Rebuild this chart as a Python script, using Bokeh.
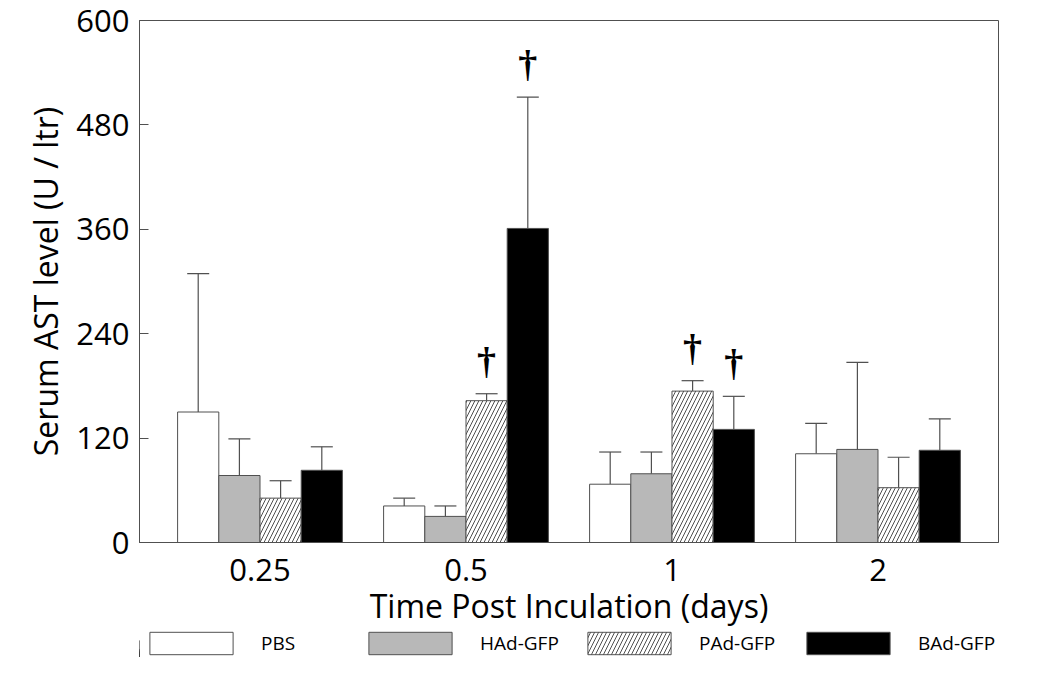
from bokeh.plotting import figure
from bokeh.layouts import column
from bokeh.models import (ColumnDataSource, FixedTicker, Legend, LegendItem,
                          Whisker, TeeHead, Range1d)
from bokeh.core.properties import value
from bokeh.embed import file_html
from bokeh.resources import INLINE

# ---------------- data ----------------
groups = ["0.25", "0.5", "1", "2"]          # time post inoculation (days)
series = ["PBS", "HAd-GFP", "PAd-GFP", "BAd-GFP"]

pbs = [150, 42, 67, 102]
pbs_upper = [309, 51, 104, 137]
had = [77, 30, 79, 107]
had_upper = [119, 42, 104, 207]
pad = [51, 163, 174, 63]
pad_upper = [71, 171, 186, 98]
bad = [83, 361, 130, 106]
bad_upper = [110, 512, 168, 142]

# significance markers (dagger) per series and group
pbs_sig = [False, False, False, False]
had_sig = [False, False, False, False]
pad_sig = [False, True, True, False]
bad_sig = [False, True, True, False]

y_ticks = [0, 120, 240, 360, 480, 600]

# ---------------- styling ----------------
values = [pbs, had, pad, bad]
uppers = [pbs_upper, had_upper, pad_upper, bad_upper]
sigs = [pbs_sig, had_sig, pad_sig, bad_sig]
fills = ["white", "#b8b8b8", "white", "black"]
hatches = [" ", " ", "/", " "]
bar_w = 0.2
offsets = [-1.5 * bar_w, -0.5 * bar_w, 0.5 * bar_w, 1.5 * bar_w]
edge = "#505050"
FONT = "Open Sans"

def bar_style(i):
    return dict(fill_color=fills[i], line_color=edge, line_width=1,
                hatch_pattern=hatches[i], hatch_color="#222222",
                hatch_scale=8, hatch_weight=0.8)

p = figure(width=1033, height=629, output_backend="svg", toolbar_location=None,
           x_range=Range1d(-0.585, 3.585), y_range=Range1d(0, 600),
           min_border_left=112, min_border_right=8, min_border_top=20,
           min_border_bottom=0)
p.background_fill_color = "white"
p.border_fill_color = "white"
p.outline_line_color = edge
p.outline_line_width = 1
p.xgrid.visible = False
p.ygrid.visible = False

sources = []
for i, name in enumerate(series):
    xs = [g + offsets[i] for g in range(len(groups))]
    src = ColumnDataSource(dict(x=xs, top=values[i], upper=uppers[i]))
    sources.append(src)
    p.vbar(x="x", top="top", bottom=0, width=bar_w, source=src, **bar_style(i))
    w = Whisker(base="x", lower="top", upper="upper", source=src,
                dimension="height", line_color=edge, line_width=1.2,
                upper_head=TeeHead(size=22, line_color=edge, line_width=1.2),
                lower_head=None)
    p.add_layout(w)
    dx = [x for x, s in zip(xs, sigs[i]) if s]
    dy = [u for u, s in zip(uppers[i], sigs[i]) if s]
    if dx:
        p.text(x=dx, y=dy, text=["\u2020"] * len(dx),
               text_font=value("Liberation Serif"), text_font_style="bold",
               text_font_size="38px", text_color="black",
               text_align="center", text_baseline="bottom", y_offset=-12)

# axes
p.xaxis.ticker = FixedTicker(ticks=list(range(len(groups))))
p.xaxis.major_label_overrides = {i: g for i, g in enumerate(groups)}
p.xaxis.major_tick_line_color = None
p.xaxis.minor_tick_line_color = None
p.xaxis.axis_line_color = edge
p.xaxis.major_label_text_font = FONT
p.xaxis.major_label_text_font_size = "31px"
p.xaxis.major_label_text_color = "black"
p.xaxis.major_label_standoff = 10
p.xaxis.axis_label = "Time Post Inculation (days)"
p.xaxis.axis_label_text_font = FONT
p.xaxis.axis_label_text_font_size = "32px"
p.xaxis.axis_label_text_font_style = "normal"
p.xaxis.axis_label_text_color = "black"
p.xaxis.axis_label_standoff = 0

p.yaxis.ticker = FixedTicker(ticks=y_ticks)
p.yaxis.major_tick_in = 9
p.yaxis.major_tick_out = 0
p.yaxis.minor_tick_line_color = None
p.yaxis.major_tick_line_color = edge
p.yaxis.axis_line_color = edge
p.yaxis.major_label_text_font = FONT
p.yaxis.major_label_text_font_size = "31px"
p.yaxis.major_label_text_color = "black"
p.yaxis.major_label_standoff = 10
p.yaxis.axis_label = "Serum AST level (U / ltr)"
p.yaxis.axis_label_text_font = FONT
p.yaxis.axis_label_text_font_size = "32px"
p.yaxis.axis_label_text_font_style = "normal"
p.yaxis.axis_label_text_color = "black"
p.yaxis.axis_label_standoff = 6

# ---------------- legend strip below the chart ----------------
# legend-only renderers: same sources/styles; the strip's x range lies far
# away from the data, so only the legend itself is visible here
lg = figure(width=1033, height=28, output_backend="svg", toolbar_location=None,
            x_range=Range1d(100, 104.17), y_range=Range1d(0, 600),
            x_axis_type=None, y_axis_type=None,
            min_border_left=139, min_border_right=35, min_border_top=0,
            min_border_bottom=0)
lg.outline_line_color = None
lg.xgrid.visible = False
lg.ygrid.visible = False
items = []
for i, name in enumerate(series):
    r = lg.vbar(x="x", top="top", bottom=0, width=bar_w, source=sources[i],
                **bar_style(i))
    items.append(LegendItem(label=name, renderers=[r]))
legend = Legend(items=items, orientation="horizontal", location="center_left",
                glyph_width=104, glyph_height=28, label_standoff=18,
                label_width=80, spacing=17, padding=0, margin=0,
                border_line_color=None, background_fill_alpha=0,
                label_text_font=FONT, label_text_font_size="19px",
                label_text_color="black")
lg.add_layout(legend, "center")

layout = column(p, lg, spacing=0)
open("out.html", "w").write(file_html(layout, INLINE))
